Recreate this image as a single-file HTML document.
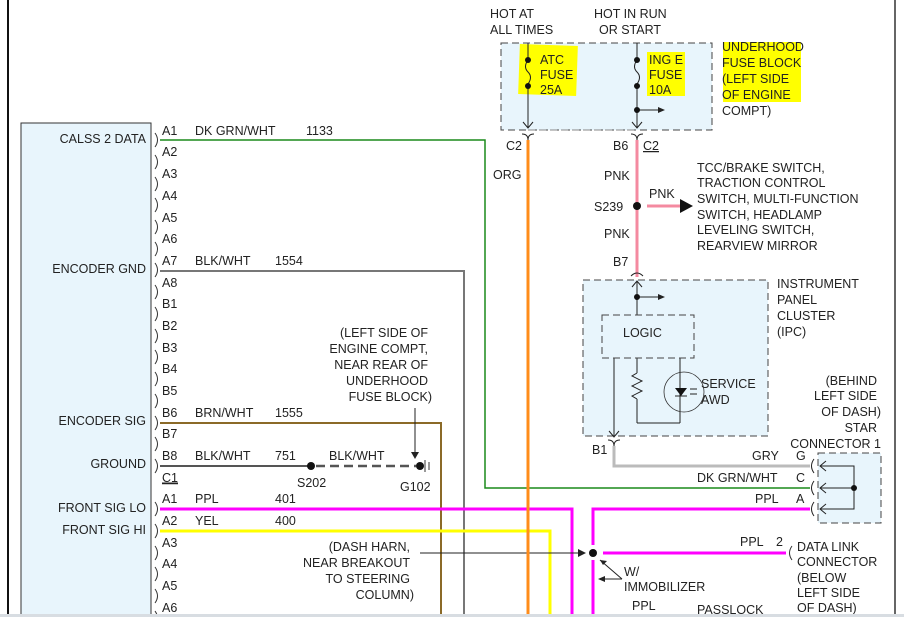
<!DOCTYPE html>
<html><head><meta charset="utf-8"><style>
html,body{margin:0;padding:0;background:#fff}
svg{display:block}
text{font-family:"Liberation Sans",Arial,sans-serif;font-size:12.5px;fill:#222}
</style></head><body>
<svg width="904" height="617" viewBox="0 0 904 617" xmlns="http://www.w3.org/2000/svg">
<rect width="904" height="617" fill="#fff"/>
<line x1="8" y1="0" x2="8" y2="617" stroke="#111" stroke-width="2"/>
<line x1="895" y1="0" x2="895" y2="617" stroke="#333" stroke-width="1.5"/>
<!-- module -->
<rect x="21" y="123" width="130" height="500" fill="#e8f5fc" stroke="#333" stroke-width="1"/>
<g text-anchor="end">
<text x="146" y="143">CALSS 2 DATA</text>
<text x="146" y="273">ENCODER GND</text>
<text x="146" y="425">ENCODER SIG</text>
<text x="146" y="468">GROUND</text>
<text x="146" y="512">FRONT SIG LO</text>
<text x="146" y="534">FRONT SIG HI</text>
</g>
<!-- brackets -->
<g fill="none" stroke="#333" stroke-width="1">
<path d="M155,133 q5,7 0,14"/><path d="M155,155 q5,7 0,14"/><path d="M155,177 q5,7 0,14"/><path d="M155,198 q5,7 0,14"/><path d="M155,220 q5,7 0,14"/><path d="M155,242 q5,7 0,14"/><path d="M155,263 q5,7 0,14"/><path d="M155,285 q5,7 0,14"/><path d="M155,307 q5,7 0,14"/><path d="M155,329 q5,7 0,14"/><path d="M155,350 q5,7 0,14"/><path d="M155,372 q5,7 0,14"/><path d="M155,394 q5,7 0,14"/><path d="M155,416 q5,7 0,14"/><path d="M155,437 q5,7 0,14"/><path d="M155,459 q5,7 0,14"/><path d="M155,502 q5,7 0,14"/><path d="M155,524 q5,7 0,14"/><path d="M155,546 q5,7 0,14"/><path d="M155,567 q5,7 0,14"/><path d="M155,589 q5,7 0,14"/><path d="M155,611 q5,7 0,14"/>
</g>
<g>
<text x="162" y="135">A1</text><text x="162" y="156">A2</text><text x="162" y="178">A3</text><text x="162" y="200">A4</text><text x="162" y="222">A5</text><text x="162" y="243">A6</text><text x="162" y="265">A7</text><text x="162" y="287">A8</text><text x="162" y="308">B1</text><text x="162" y="330">B2</text><text x="162" y="352">B3</text><text x="162" y="373">B4</text><text x="162" y="395">B5</text><text x="162" y="417">B6</text><text x="162" y="438">B7</text><text x="162" y="460">B8</text><text x="162" y="482" text-decoration="underline">C1</text><text x="162" y="503">A1</text><text x="162" y="525">A2</text><text x="162" y="547">A3</text><text x="162" y="568">A4</text><text x="162" y="590">A5</text><text x="162" y="612">A6</text>
</g>
<line x1="162" y1="483" x2="178" y2="483" stroke="#222" stroke-width="1"/>
<!-- wire labels -->
<text x="195" y="135">DK GRN/WHT</text><text x="306" y="135">1133</text>
<text x="195" y="265">BLK/WHT</text><text x="275" y="265">1554</text>
<text x="195" y="417">BRN/WHT</text><text x="275" y="417">1555</text>
<text x="195" y="460">BLK/WHT</text><text x="275" y="460">751</text><text x="329" y="460">BLK/WHT</text>
<text x="195" y="503">PPL</text><text x="275" y="503">401</text>
<text x="195" y="525">YEL</text><text x="275" y="525">400</text>
<text x="297" y="487">S202</text><text x="400" y="491">G102</text>
<g text-anchor="end">
<text x="428" y="337">(LEFT SIDE OF</text><text x="428" y="353">ENGINE COMPT,</text><text x="428" y="369">NEAR REAR OF</text><text x="428" y="385">UNDERHOOD</text><text x="432" y="401">FUSE BLOCK)</text>
<text x="410" y="551">(DASH HARN,</text><text x="410" y="567">NEAR BREAKOUT</text><text x="410" y="583">TO STEERING</text><text x="414" y="599">COLUMN)</text>
</g>
<!-- wires -->
<polyline points="160,140 485,140 485,488 810,488" fill="none" stroke="#1a8a1a" stroke-width="1.5"/>
<polyline points="160,271 464,271 464,617" fill="none" stroke="#777" stroke-width="2"/>
<polyline points="160,423 441,423 441,617" fill="none" stroke="#8b6a28" stroke-width="2"/>
<line x1="160" y1="466" x2="311" y2="466" stroke="#555" stroke-width="2"/>
<line x1="316" y1="466" x2="416" y2="466" stroke="#555" stroke-width="2.5" stroke-dasharray="9,5"/>
<circle cx="311" cy="466" r="4" fill="#111"/><circle cx="420" cy="466" r="4" fill="#111"/>
<line x1="425" y1="460" x2="425" y2="472" stroke="#333"/><line x1="429" y1="462" x2="429" y2="470" stroke="#333"/>
<line x1="415" y1="408" x2="415" y2="455" stroke="#222"/><path d="M411,452 L419,452 L415,459 Z" fill="#222"/>
<polyline points="160,509 572,509 572,617" fill="none" stroke="#ff00ff" stroke-width="3"/>
<polyline points="160,531 550,531 550,617" fill="none" stroke="#ffff00" stroke-width="3"/>
<polyline points="593,545 593,509 810,509" fill="none" stroke="#ff00ff" stroke-width="3"/>
<line x1="593" y1="560" x2="593" y2="617" stroke="#ff00ff" stroke-width="3"/>
<line x1="603" y1="553" x2="786" y2="553" stroke="#ff00ff" stroke-width="3"/>
<circle cx="593" cy="553" r="4" fill="#111"/>
<line x1="420" y1="553" x2="580" y2="553" stroke="#222"/><path d="M578,549 L586,553 L578,557 Z" fill="#222"/>
<line x1="600" y1="560" x2="622" y2="579" stroke="#222"/><path d="M600,560 l7,1 l-4,4 Z" fill="#222"/>
<line x1="600" y1="579" x2="622" y2="579" stroke="#222"/><path d="M598,579 l7,-3 l0,6 Z" fill="#222"/>
<text x="624" y="576">W/</text><text x="624" y="591">IMMOBILIZER</text>
<text x="632" y="610">PPL</text><text x="697" y="614">PASSLOCK</text>
<text x="740" y="546">PPL</text><text x="776" y="546">2</text>
<path d="M792,546 q-5,7 0,14" fill="none" stroke="#333"/>
<text x="797" y="551">DATA LINK</text><text x="797" y="566">CONNECTOR</text><text x="797" y="582">(BELOW</text><text x="797" y="597">LEFT SIDE</text><text x="797" y="612">OF DASH)</text>
<!-- fuse block -->
<rect x="501" y="43" width="211" height="87" fill="#e8f5fc" stroke="#444" stroke-dasharray="7,4"/>
<line x1="528" y1="130" x2="637" y2="130" stroke="#888" stroke-dasharray="7,4"/>
<rect x="519" y="45" width="58" height="50" fill="#ffff00" transform="rotate(2 548 70)"/>
<rect x="647" y="52" width="38" height="44" fill="#ffff00"/>
<rect x="723" y="42" width="78" height="60" fill="#ffff00"/>
<text x="490" y="18">HOT AT</text><text x="490" y="34">ALL TIMES</text>
<text x="594" y="18">HOT IN RUN</text><text x="599" y="34">OR START</text>
<text x="540" y="64">ATC</text><text x="540" y="79">FUSE</text><text x="540" y="94">25A</text>
<text x="649" y="64">ING E</text><text x="649" y="79">FUSE</text><text x="649" y="94">10A</text>
<text x="722" y="51">UNDERHOOD</text><text x="722" y="67">FUSE BLOCK</text><text x="722" y="83">(LEFT SIDE</text><text x="722" y="99">OF ENGINE</text><text x="722" y="115">COMPT)</text>
<g stroke="#222" fill="none">
<line x1="528" y1="43" x2="528" y2="60"/><path d="M528,60 q-5,7 0,12 q5,5 0,12" /><line x1="528" y1="86" x2="528" y2="128"/>
<path d="M523,122 l5,6 l5,-6"/>
<line x1="637" y1="43" x2="637" y2="60"/><path d="M637,60 q-5,7 0,12 q5,5 0,12"/><line x1="637" y1="86" x2="637" y2="128"/>
<path d="M632,122 l5,6 l5,-6"/><line x1="637" y1="110" x2="660" y2="110"/>
<path d="M522,134 q6,0 6,6 M534,134 q-6,0 -6,6"/><path d="M631,134 q6,0 6,6 M643,134 q-6,0 -6,6"/>
</g>
<path d="M658,107 l7,3 l-7,3Z" fill="#222"/>
<circle cx="528" cy="60" r="3" fill="#111"/><circle cx="528" cy="86" r="3" fill="#111"/>
<circle cx="637" cy="60" r="3" fill="#111"/><circle cx="637" cy="86" r="3" fill="#111"/><circle cx="637" cy="110" r="3" fill="#111"/>
<text x="506" y="150">C2</text><text x="613" y="150">B6</text><text x="643" y="150" text-decoration="underline">C2</text>
<line x1="528" y1="140" x2="528" y2="617" stroke="#ff8c1a" stroke-width="3"/>
<text x="493" y="179">ORG</text>
<line x1="637" y1="140" x2="637" y2="277" stroke="#f48aa0" stroke-width="3"/>
<line x1="647" y1="206" x2="682" y2="206" stroke="#f48aa0" stroke-width="3"/>
<path d="M680,199 L693,206 L680,213 Z" fill="#111"/>
<circle cx="637" cy="206" r="4" fill="#111"/>
<text x="604" y="180">PNK</text><text x="594" y="211">S239</text><text x="604" y="238">PNK</text><text x="649" y="198">PNK</text>
<text x="697" y="172">TCC/BRAKE SWITCH,</text><text x="697" y="187">TRACTION CONTROL</text><text x="697" y="203">SWITCH, MULTI-FUNCTION</text><text x="697" y="219">SWITCH, HEADLAMP</text><text x="697" y="234">LEVELING SWITCH,</text><text x="697" y="250">REARVIEW MIRROR</text>
<text x="613" y="266">B7</text>
<!-- IPC -->
<rect x="583" y="280" width="185" height="156" fill="#e8f5fc" stroke="#444" stroke-dasharray="7,4"/>
<path d="M631,276 q6,-6 12,0" fill="none" stroke="#222"/>
<g stroke="#222" fill="none">
<line x1="637" y1="281" x2="637" y2="315"/><path d="M632,287 l5,-6 l5,6"/>
<line x1="637" y1="297" x2="660" y2="297"/>
<line x1="614" y1="358" x2="614" y2="437"/><path d="M609,431 l5,6 l5,-6"/>
<line x1="637" y1="358" x2="637" y2="373"/><path d="M637,373 l-5,3 l10,5 l-10,5 l10,5 l-10,5 l5,3"/><line x1="637" y1="399" x2="637" y2="423"/>
<line x1="637" y1="423" x2="680" y2="423"/><line x1="680" y1="358" x2="680" y2="423"/>
<circle cx="684" cy="392" r="20" stroke="#333" stroke-width="0.8"/>
<line x1="675" y1="396" x2="687" y2="396"/>
<line x1="690" y1="389" x2="697" y2="389"/><line x1="690" y1="394" x2="697" y2="394"/>
<path d="M608,440 q6,0 6,6 M620,440 q-6,0 -6,6"/>
</g>
<path d="M675,388 L687,388 L681,396 Z" fill="#111"/>
<path d="M658,294 l7,3 l-7,3Z" fill="#222"/>
<circle cx="637" cy="297" r="3" fill="#111"/>
<rect x="602" y="315" width="92" height="43" fill="#e8f5fc" stroke="#444" stroke-dasharray="7,4"/>
<text x="623" y="337">LOGIC</text>
<text x="701" y="388">SERVICE</text><text x="701" y="404">AWD</text>
<text x="777" y="288">INSTRUMENT</text><text x="777" y="304">PANEL</text><text x="777" y="320">CLUSTER</text><text x="777" y="336">(IPC)</text>
<text x="592" y="454">B1</text>
<polyline points="614,446 614,466 810,466" fill="none" stroke="#bbb" stroke-width="3"/>
<!-- star connector -->
<text x="877" y="385" text-anchor="end">(BEHIND</text><text x="877" y="400" text-anchor="end">LEFT SIDE</text><text x="881" y="416" text-anchor="end">OF DASH)</text><text x="877" y="432" text-anchor="end">STAR</text><text x="881" y="448" text-anchor="end">CONNECTOR 1</text>
<rect x="818" y="453" width="63" height="70" fill="#e8f5fc" stroke="#444" stroke-dasharray="7,4"/>
<text x="752" y="460">GRY</text><text x="796" y="460">G</text>
<text x="697" y="482">DK GRN/WHT</text><text x="796" y="482">C</text>
<text x="755" y="503">PPL</text><text x="796" y="503">A</text>
<g stroke="#222" fill="none">
<path d="M814,459 q-5,7 0,14"/><path d="M814,481 q-5,7 0,14"/><path d="M814,502 q-5,7 0,14"/>
<polyline points="820,466 854,466 854,509 820,509"/><line x1="820" y1="488" x2="854" y2="488"/>
<path d="M826,461 l-6,5 l6,5 M826,483 l-6,5 l6,5 M826,504 l-6,5 l6,5"/>
</g>
<circle cx="854" cy="488" r="3" fill="#111"/>
<rect x="0" y="614" width="904" height="3" fill="#d8dde2"/>
</svg>
</body></html>
